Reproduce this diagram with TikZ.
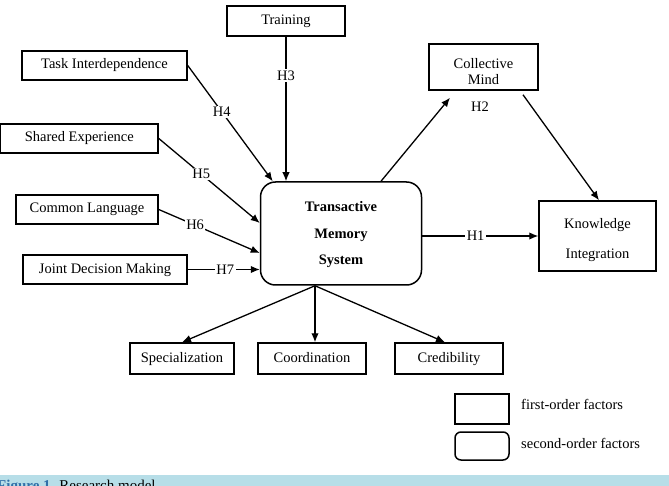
\documentclass[tikz,border=0pt]{standalone}
\usepackage{fontspec}
\setmainfont{Liberation Serif}
\usetikzlibrary{arrows.meta,calc}
\definecolor{capbg}{HTML}{B7DEE8}
\definecolor{capblue}{HTML}{2F6FA8}
\begin{document}
\begin{tikzpicture}[x=1pt,y=-1pt,
  box/.style={draw, line width=1.5pt, inner sep=0pt, align=center,
              font=\fontsize{14.5}{17}\selectfont},
  onebox/.style={box, text height=10pt, text depth=3pt},
  tmsbox/.style={box, rounded corners=15pt},
  txt/.style={inner sep=0pt, align=center},
  arr/.style={line width=1.3pt, -{Latex[length=9pt,width=7.5pt]}},
  hlab/.style={fill=white, inner sep=1.5pt, font=\fontsize{14.5}{17}\selectfont},
  legtext/.style={anchor=west, inner sep=0pt, font=\fontsize{14.5}{17}\selectfont}]
\useasboundingbox (0,0) rectangle (669,486);
\clip (0,0) rectangle (669,486);
\fill[white] (0,0) rectangle (669,486);

% nodes
\node[onebox, minimum width=118pt, minimum height=30pt] (train) at (286,21) {Training};
\node[onebox, minimum width=165pt, minimum height=29pt] (task) at (104.5,65.5) {Task Interdependence};
\node[onebox, minimum width=157.5pt, minimum height=29pt] (shared) at (79.3,138.5) {Shared Experience};
\node[onebox, minimum width=142pt, minimum height=29pt] (common) at (87,209.5) {Common Language};
\node[onebox, minimum width=164pt, minimum height=29pt] (joint) at (105,269.5) {Joint Decision Making};
\node[tmsbox, minimum width=161pt, minimum height=103pt] (tms) at (341,233.5) {};
\node[txt, font=\fontsize{14.5}{26.5}\selectfont\bfseries] (tmst) at (341,235) {Transactive\\Memory\\System};
\node[box, minimum width=109pt, minimum height=46pt] (coll) at (483.5,67) {};
\node[txt, font=\fontsize{14.5}{16}\selectfont] (collt) at (483.5,72) {Collective\\Mind};
\node[box, minimum width=117pt, minimum height=70pt] (know) at (597.5,236) {};
\node[txt, font=\fontsize{14.5}{30}\selectfont] (knowt) at (597.5,240) {Knowledge\\Integration};
\node[onebox, minimum width=104pt, minimum height=31pt] (spec) at (182,358.5) {Specialization};
\node[onebox, minimum width=108pt, minimum height=31pt] (coord) at (312,358.5) {Coordination};
\node[onebox, minimum width=108pt, minimum height=31pt] (cred) at (449,358.5) {Credibility};

% connectors
\draw[arr] (train.south) -- node[hlab, pos=0.27] {H3} (tms.north -| train.south);
\draw[arr] (task.east) -- node[hlab, pos=0.40] {H4} ($(tms.north west)+(13,0)$);
\draw[arr] (shared.east) -- node[hlab, pos=0.42] {H5} ($(tms.west)+(0,-10.5)$);
\draw[arr] (common.east) -- node[hlab, pos=0.36] {H6} ($(tms.west)+(0,19.5)$);
\draw[arr] (joint.east) -- node[hlab, pos=0.52] {H7} (tms.west |- joint.east);
\draw[arr] ($(tms.north)+(40,0)$) -- ($(coll.south)+(-33.5,7)$);
\node[inner sep=0pt, font=\fontsize{14.5}{17}\selectfont] (h2) at (480,107) {H2};
\draw[arr] ($(coll.south)+(39.5,4)$) -- ($(know.north)+(1.5,0)$);
\draw[arr] (tms.east |- know.west) -- node[hlab, pos=0.46] {H1} (know.west);
\coordinate (tmsb) at ($(tms.south)+(-26,0)$);
\draw[arr] (tmsb) -- (spec.north);
\draw[arr] (tmsb) -- ($(coord.north)+(3,0)$);
\draw[arr] (tmsb) -- ($(cred.north)+(-4,0)$);

% legend
\node[box, minimum width=54pt, minimum height=30pt] (leg1) at (482,409) {};
\node[box, rounded corners=6pt, minimum width=54pt, minimum height=28pt] (leg2) at (482,446) {};
\node[legtext] (leg1t) at (521,404) {first-order factors};
\node[legtext] (leg2t) at (521,443) {second-order factors};

% caption bar
\fill[capbg] (0,475) rectangle (669,486);
\node[anchor=base west, inner sep=0pt, font=\fontsize{15}{17}\selectfont] (cap) at (-3,490)
  {\textcolor{capblue}{\bfseries Figure 1.} Research model.};
\end{tikzpicture}
\end{document}
